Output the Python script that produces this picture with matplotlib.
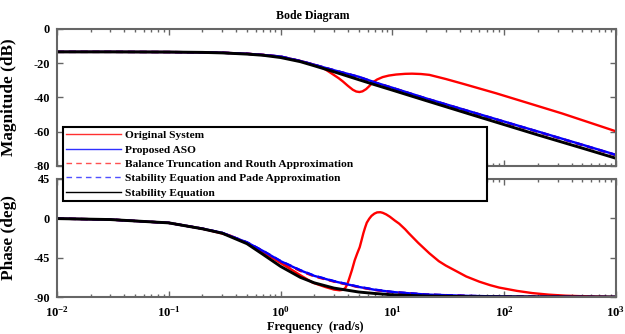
import matplotlib
matplotlib.use('Agg')
import matplotlib.pyplot as plt
from matplotlib.lines import Line2D
from matplotlib.ticker import FixedLocator, LogLocator, NullFormatter

plt.rcParams['font.family'] = ['Liberation Serif', 'DejaVu Serif']
plt.rcParams['font.weight'] = 'bold'
plt.rcParams['axes.labelweight'] = 'bold'
plt.rcParams['mathtext.fontset'] = 'custom'
plt.rcParams['mathtext.rm'] = 'Liberation Serif:bold'
plt.rcParams['mathtext.default'] = 'rm'
plt.rcParams['axes.unicode_minus'] = False

# frequencies (rad/s) used for the reduced models
w_red = [0.01, 0.03, 0.1, 0.2, 0.3, 0.5, 0.7, 1, 1.5, 2, 3, 5, 7, 10, 20, 50,
         100, 200, 500, 1000]

# magnitude (dB)
mag_aso = [-13.5, -13.5, -13.6, -13.8, -14.0, -14.6, -15.3, -16.2, -18.8, -21.0,
           -24.2, -28.0, -31.3, -34.4, -40.6, -48.3, -54.1, -59.9, -67.6, -73.5]
mag_bt = [-13.5, -13.5, -13.6, -13.8, -14.0, -14.6, -15.3, -16.3, -18.9, -21.1,
          -24.3, -28.2, -31.5, -34.6, -40.8, -48.5, -54.3, -60.1, -67.8, -73.7]
mag_sep = [-13.5, -13.5, -13.6, -13.8, -14.0, -14.6, -15.3, -16.2, -18.8, -21.0,
           -24.2, -28.1, -31.4, -34.5, -40.7, -48.4, -54.2, -60.0, -67.7, -73.6]
mag_se = [-13.5, -13.5, -13.6, -13.8, -14.1, -14.8, -15.5, -16.8, -19.2, -21.6,
          -25.1, -29.7, -32.7, -35.8, -41.9, -49.9, -55.9, -61.9, -69.6, -75.5]

# phase (deg)
ph_aso = [-0.3, -1.4, -5.2, -11.8, -16.6, -27.5, -37.5, -49.0, -59.5, -65.8,
          -72.0, -78.5, -81.8, -84.3, -87.2, -88.8, -89.4, -89.7, -89.9, -90.0]
ph_bt = [-0.3, -1.4, -5.2, -11.9, -16.8, -27.8, -38.0, -49.6, -60.2, -66.4,
         -72.4, -78.8, -82.0, -84.5, -87.3, -88.9, -89.5, -89.7, -89.9, -90.0]
ph_sep = [-0.3, -1.4, -5.2, -11.8, -16.6, -27.4, -37.4, -48.8, -59.3, -65.6,
          -71.8, -78.3, -81.6, -84.2, -87.1, -88.8, -89.4, -89.7, -89.9, -90.0]
ph_se = [-0.3, -1.4, -5.2, -12.0, -17.0, -29.0, -41.5, -55.0, -67.5, -73.8,
         -79.8, -84.3, -86.0, -87.5, -88.9, -89.6, -89.8, -89.9, -90.0, -90.0]

# original system
w_org_m = [0.01, 0.03, 0.1, 0.2, 0.3, 0.5, 0.7, 1, 1.5, 2, 2.4, 2.74, 3.0, 3.3,
           3.6, 4.0, 4.43, 4.75, 5.07, 5.4, 5.82, 6.2, 6.66, 7.3, 8.18, 9.3,
           10.8, 13, 15, 18, 21.4, 30, 42.8, 84.4, 167, 330, 1000]
mag_org = [-13.5, -13.5, -13.6, -13.8, -14.0, -14.6, -15.3, -16.3, -18.8, -21.0,
           -22.9, -25.3, -27.0, -28.8, -30.7, -33.3, -35.6, -36.6, -36.9, -36.5,
           -35.2, -33.5, -31.3, -29.6, -28.2, -27.3, -26.7, -26.3, -26.2, -26.4,
           -26.9, -29.3, -32.1, -37.6, -43.5, -49.4, -59.8]
w_org_p = [0.01, 0.03, 0.1, 0.2, 0.35, 0.5, 0.7, 1, 1.5, 1.93, 2.5, 3.0, 3.37,
           3.6, 3.8, 3.95, 4.13, 4.35, 4.6, 4.85, 5.1, 5.3, 5.5, 5.7, 5.9, 6.2,
           6.5, 6.9, 7.3, 7.8, 8.2, 8.8, 9.5, 10.5, 11.5, 13, 14, 17, 21.4, 26,
           30, 38, 45.7, 60, 75, 90, 130, 178, 250, 355, 600, 1000]
ph_org = [-0.3, -1.4, -5.2, -11.8, -19.5, -28.2, -39.0, -51.0, -65.0, -73.5,
          -78.5, -81.5, -82.3, -81.8, -79.5, -75.5, -68.0, -59.0, -48.0, -40.0,
          -33.0, -25.0, -17.0, -10.5, -5.0, -0.5, 2.8, 5.4, 6.8, 7.0, 6.3, 4.5,
          1.8, -2.5, -6.1, -12.5, -17.0, -28.0, -40.0, -49.0, -54.0, -61.0,
          -66.5, -72.5, -76.5, -79.2, -83.0, -85.5, -87.3, -88.5, -89.4, -90.0]

labels = ['Original System', 'Proposed ASO',
          'Balance Truncation and Routh Approximation',
          'Stability Equation and Pade Approximation', 'Stability Equation']

fig = plt.figure(figsize=(6.25, 3.34), dpi=100)
ax1 = fig.add_axes([57 / 625, 1 - 166 / 334, 559 / 625, 137.3 / 334])
ax2 = fig.add_axes([57 / 625, 1 - 297 / 334, 559 / 625, 118 / 334])

lw = 1.7
dash = (3, 2)
for ax, org, w_org, aso, bt, sep, se in [
        (ax1, mag_org, w_org_m, mag_aso, mag_bt, mag_sep, mag_se),
        (ax2, ph_org, w_org_p, ph_aso, ph_bt, ph_sep, ph_se)]:
    ax.semilogx(w_org, org, color='red', lw=lw)
    ax.semilogx(w_red, aso, color='blue', lw=lw)
    ax.semilogx(w_red, bt, color='red', lw=lw, ls='--', dashes=dash)
    ax.semilogx(w_red, sep, color='blue', lw=lw, ls='--', dashes=dash)
    ax.semilogx(w_red, se, color='black', lw=lw + 0.4)
    ax.set_xlim(0.01, 1000)
    for s in ax.spines.values():
        s.set_color('#666666')
        s.set_linewidth(1.5)
    ax.tick_params(which='both', direction='in', top=True, right=True,
                   color='#666666', labelsize=8.8, pad=5)
    ax.tick_params(which='major', length=4, width=1)
    ax.tick_params(which='minor', length=2.5, width=1)
    ax.xaxis.set_minor_locator(LogLocator(base=10, subs=range(2, 10), numticks=20))
    ax.xaxis.set_minor_formatter(NullFormatter())

ax1.set_ylim(-80, 0)
ax1.yaxis.set_major_locator(FixedLocator([-80, -60, -40, -20, 0]))
ax1.set_xticklabels([])
ax1.set_ylabel('Magnitude (dB)', fontsize=12.4, fontweight='bold')
ax1.yaxis.set_label_coords(-0.072, 0.5)

ax2.set_ylim(-90, 45)
ax2.yaxis.set_major_locator(FixedLocator([-90, -45, 0, 45]))
ax2.xaxis.set_major_locator(FixedLocator([0.01, 0.1, 1, 10, 100, 1000]))
ax2.set_xticklabels(['$10^{-2}$', '$10^{-1}$', '$10^{0}$', '$10^{1}$',
                     '$10^{2}$', '$10^{3}$'])
ax2.tick_params(axis='x', pad=6, labelsize=9.2)
ax2.set_ylabel('Phase (deg)', fontsize=12.4, fontweight='bold')
ax2.yaxis.set_label_coords(-0.072, 0.5)

fig.text(0.5, 1 - 16 / 334, 'Bode Diagram', ha='center', va='center',
         fontsize=8.6, fontweight='bold')
fig.text(0.504, 1 - 327 / 334, 'Frequency  (rad/s)', ha='center', va='center',
         fontsize=8.8, fontweight='bold')

handles = [Line2D([], [], color='#ff3030', lw=1.0),
           Line2D([], [], color='#3030ff', lw=1.0),
           Line2D([], [], color='#ff5050', lw=1.0, ls='--', dashes=(4, 3)),
           Line2D([], [], color='#5050ff', lw=1.0, ls='--', dashes=(4, 3)),
           Line2D([], [], color='black', lw=1.0)]
leg = fig.legend(handles, labels, loc='upper left',
                 bbox_to_anchor=(63 / 625, 1 - 127 / 334, 424 / 625, 0),
                 mode='expand', borderaxespad=0,
                 prop={'weight': 'bold', 'size': 8.2},
                 handlelength=4.8, handletextpad=0.36, labelspacing=0.38,
                 borderpad=0.3, fancybox=False, framealpha=1)
leg.get_frame().set_edgecolor('black')
leg.get_frame().set_linewidth(1.5)
leg.set_zorder(10)

fig.savefig('out.png', dpi=100)
